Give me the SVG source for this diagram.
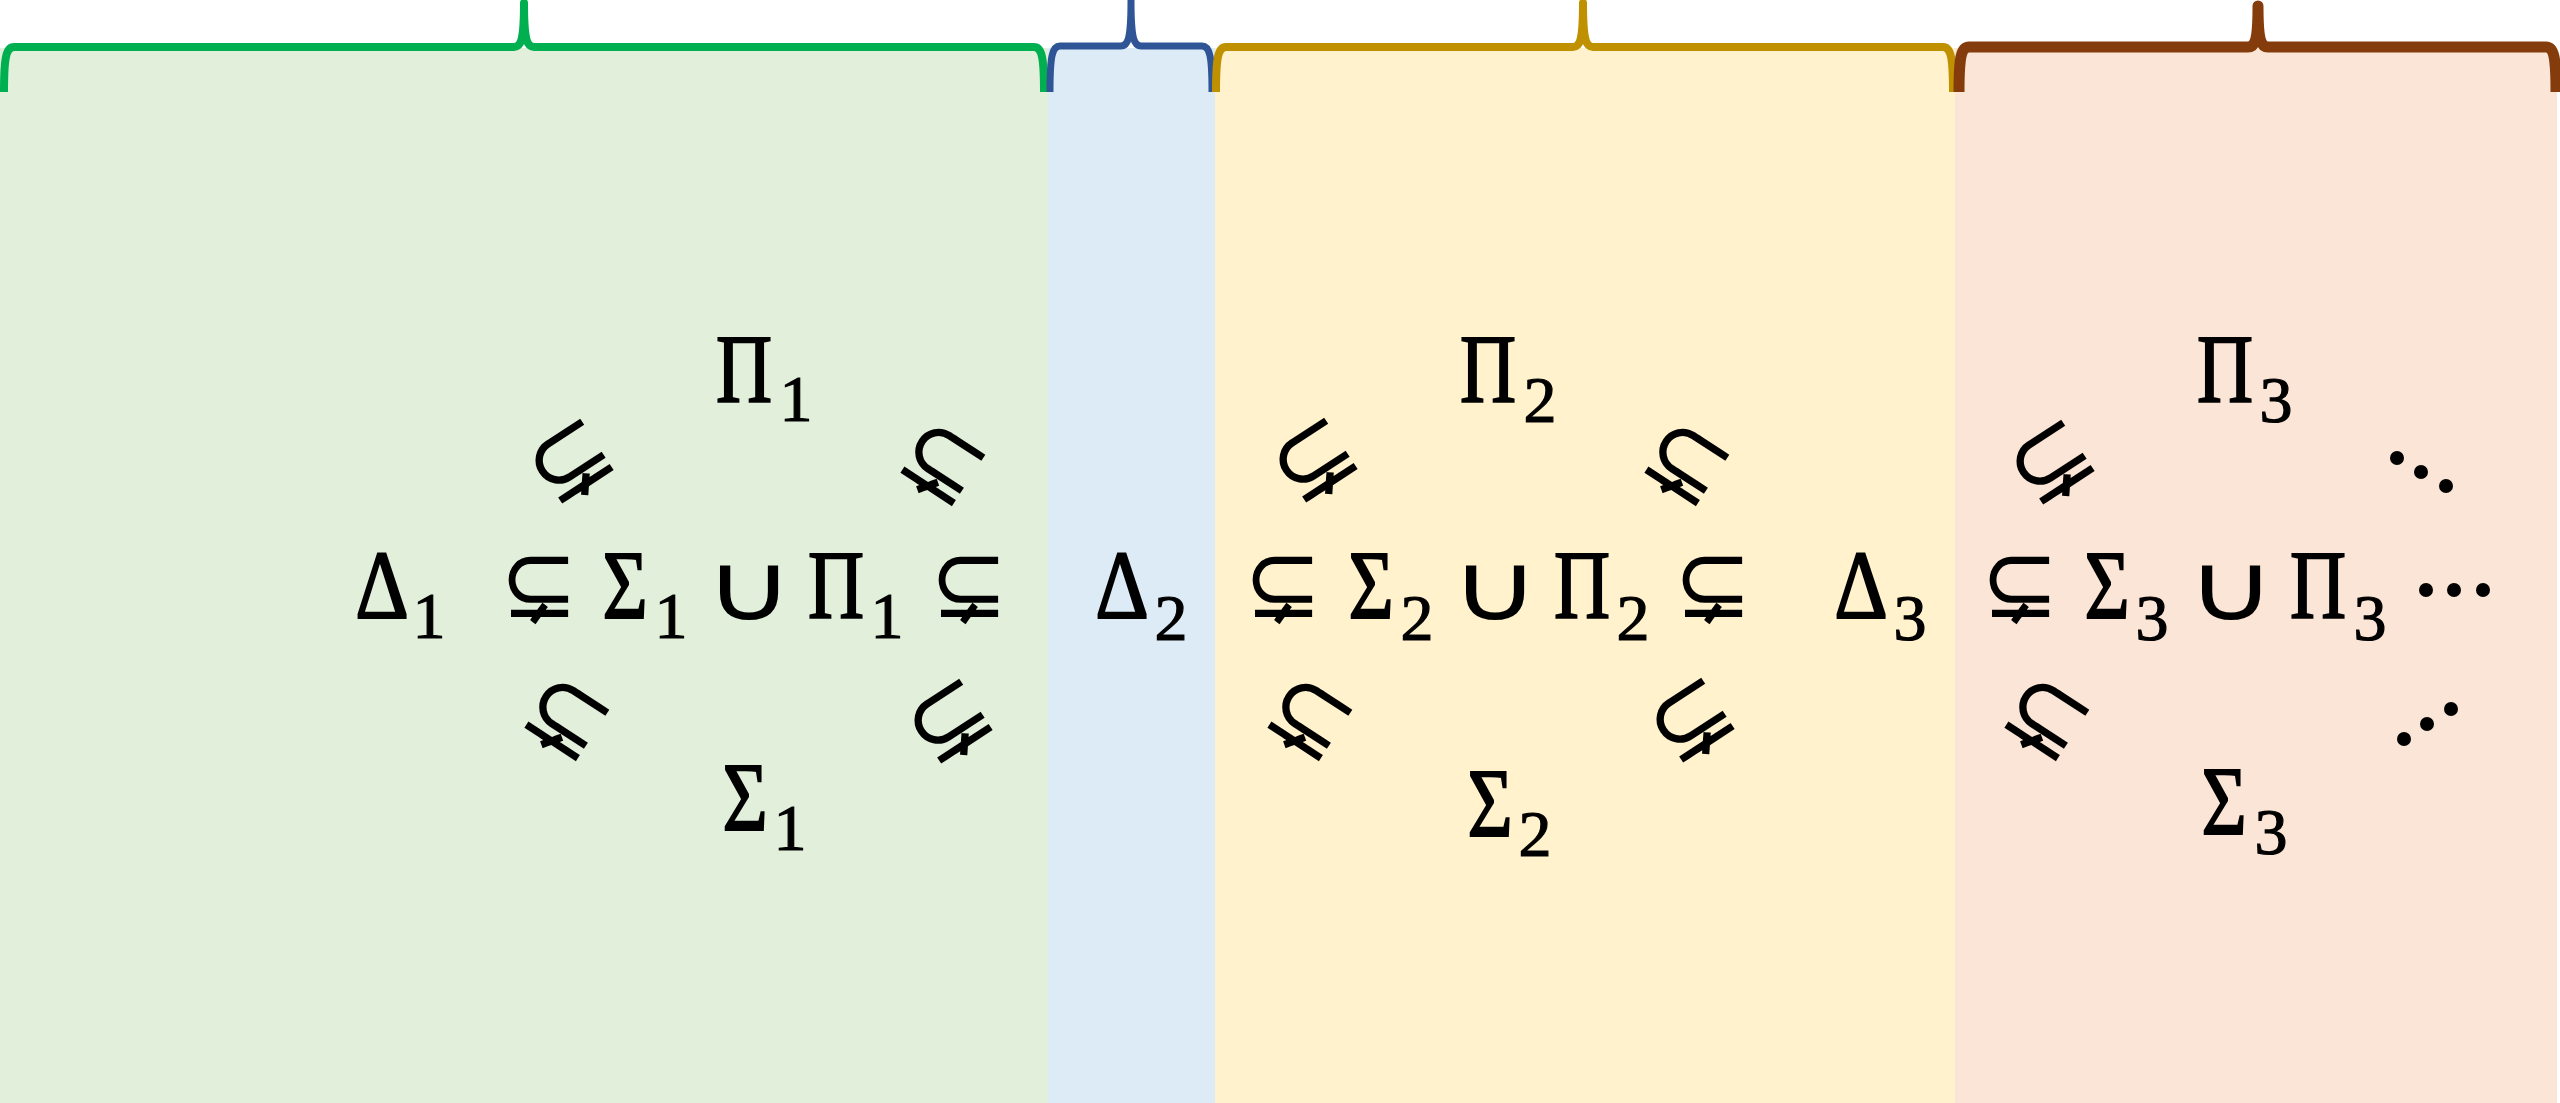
<svg xmlns="http://www.w3.org/2000/svg" width="2560" height="1103" viewBox="0 0 2560 1103">
<style>
.m{font-family:"Liberation Serif","DejaVu Serif",serif;font-size:97px;text-anchor:middle;fill:#000;stroke:#000;stroke-width:2px}
.s{font-family:"Liberation Serif","DejaVu Serif",serif;font-size:66px;text-anchor:middle;fill:#000;stroke:#000;stroke-width:1.2px}
.r{font-family:"DejaVu Sans",sans-serif;font-size:98px;text-anchor:middle;fill:#000}
.rr{font-family:"DejaVu Sans",sans-serif;font-size:100px;text-anchor:middle;fill:#000}
.u{font-family:"DejaVu Sans",sans-serif;font-size:94px;text-anchor:middle;fill:#000}
.br{fill:none;stroke-linecap:butt;stroke-linejoin:round}
</style>
<rect width="2560" height="1103" fill="#ffffff"/>
<g id="backgrounds">
<rect x="0" y="48" width="1048" height="1055" fill="#E2EFDA"/>
<rect x="1048" y="48" width="167" height="1055" fill="#DDEBF7"/>
<rect x="1215" y="48" width="740" height="1055" fill="#FFF2CC"/>
<rect x="1955" y="48" width="602" height="1055" fill="#FBE5D6"/>
</g>
<g id="braces">
<path class="br" stroke="#00B050" stroke-width="8" d="M4,92 C4,58 6,47 14,47 L514,47 C521,47 524,40 524,3 C524,40 527,47 534,47 L1034,47 C1042,47 1044,58 1044,92"/>
<path class="br" stroke="#2F5597" stroke-width="7" d="M1050,92 C1050,57 1052,46 1060,46 L1121,46 C1128,46 1131,39 1131,0 C1131,39 1134,46 1141,46 L1202,46 C1210,46 1212,57 1212,92"/>
<path class="br" stroke="#BF9000" stroke-width="8" d="M1216,92 C1216,58 1218,47 1226,47 L1573,47 C1580,47 1583,40 1583,3 C1583,40 1586,47 1593,47 L1943,47 C1951,47 1953,58 1953,92"/>
<path class="br" stroke="#843C0C" stroke-width="11" d="M1959,92 C1959,58 1961,47 1969,47 L2248,47 C2255,47 2258,40 2258,6 C2258,40 2261,47 2268,47 L2546,47 C2554,47 2556,58 2556,92"/>
</g>
<g id="level1">
<text class="m" transform="translate(744,402) scale(0.8,1)">Π</text><text class="s" x="796" y="421">1</text>
<text class="m" transform="translate(382,618) scale(0.86,1)">Δ</text><text class="s" x="429" y="638">1</text>
<text class="r" transform="translate(539,617) scale(0.95,1)">⊊</text>
<text class="m" transform="translate(625,618) scale(0.8,1)">Σ</text><text class="s" x="671" y="638">1</text>
<text class="u" transform="translate(749,620) scale(1.3,1)">∪</text>
<text class="m" transform="translate(836,618) scale(0.8,1)">Π</text><text class="s" x="887" y="638">1</text>
<text class="r" transform="translate(969,617) scale(0.95,1)">⊊</text>
<text class="m" transform="translate(745,830) scale(0.8,1)">Σ</text><text class="s" x="790" y="850">1</text>
<g transform="translate(571,462) rotate(-33)"><text class="rr" x="0" y="30">⊊</text></g>
<g transform="translate(942,464) rotate(33)"><text class="rr" x="0" y="30">⊊</text></g>
<g transform="translate(566,719) rotate(33)"><text class="rr" x="0" y="30">⊊</text></g>
<g transform="translate(950,722) rotate(-33)"><text class="rr" x="0" y="30">⊊</text></g>
</g>
<g id="level2delta">
<text class="m" transform="translate(1122,618) scale(0.86,1)">Δ</text><text class="s" x="1171" y="640">2</text>
</g>
<g id="level2">
<text class="r" transform="translate(1283,617) scale(0.95,1)">⊊</text>
<text class="m" transform="translate(1371,618) scale(0.8,1)">Σ</text><text class="s" x="1417" y="640">2</text>
<text class="u" transform="translate(1495,620) scale(1.3,1)">∪</text>
<text class="m" transform="translate(1582,618) scale(0.8,1)">Π</text><text class="s" x="1633" y="640">2</text>
<text class="r" transform="translate(1713,617) scale(0.95,1)">⊊</text>
<text class="m" transform="translate(1488,402) scale(0.8,1)">Π</text><text class="s" x="1540" y="422">2</text>
<text class="m" transform="translate(1490,836) scale(0.8,1)">Σ</text><text class="s" x="1535" y="856">2</text>
<g transform="translate(1315,461) rotate(-33)"><text class="rr" x="0" y="30">⊊</text></g>
<g transform="translate(1686,464) rotate(33)"><text class="rr" x="0" y="30">⊊</text></g>
<g transform="translate(1309,719) rotate(33)"><text class="rr" x="0" y="30">⊊</text></g>
<g transform="translate(1692,721) rotate(-33)"><text class="rr" x="0" y="30">⊊</text></g>
</g>
<g id="level3">
<text class="m" transform="translate(1861,618) scale(0.86,1)">Δ</text><text class="s" x="1910" y="640">3</text>
<text class="r" transform="translate(2020,617) scale(0.95,1)">⊊</text>
<text class="m" transform="translate(2107,618) scale(0.8,1)">Σ</text><text class="s" x="2152" y="640">3</text>
<text class="u" transform="translate(2231,620) scale(1.3,1)">∪</text>
<text class="m" transform="translate(2318,618) scale(0.8,1)">Π</text><text class="s" x="2370" y="640">3</text>
<text class="m" transform="translate(2225,402) scale(0.8,1)">Π</text><text class="s" x="2276" y="422">3</text>
<text class="m" transform="translate(2224,834) scale(0.8,1)">Σ</text><text class="s" x="2271" y="854">3</text>
<g transform="translate(2052,463) rotate(-33)"><text class="rr" x="0" y="30">⊊</text></g>
<g transform="translate(2046,719) rotate(33)"><text class="rr" x="0" y="30">⊊</text></g>
<g fill="#000">
<circle cx="2397" cy="458" r="7"/><circle cx="2421" cy="472" r="7"/><circle cx="2446" cy="486" r="7"/>
<circle cx="2426" cy="590" r="7"/><circle cx="2454" cy="590" r="7"/><circle cx="2483" cy="590" r="7"/>
<circle cx="2404" cy="739" r="7"/><circle cx="2427" cy="724" r="7"/><circle cx="2451" cy="709" r="7"/>
</g>
</g>
</svg>
